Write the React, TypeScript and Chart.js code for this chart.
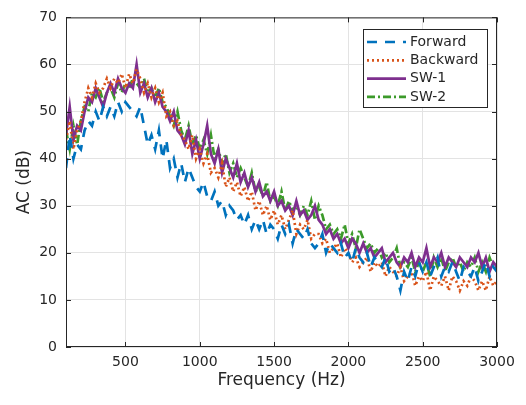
import React, { useEffect, useRef } from "react";
import { Chart, registerables } from "chart.js";

Chart.register(...registerables);

const FREQ_START = 100;
const FREQ_STEP = 25;

const forward = [
  38, 45, 40, 43, 42, 46, 48, 47, 50, 48, 51, 49, 51, 49, 52, 50,
  52, 51, 50, 49, 51, 47, 43, 45, 42, 46, 40, 44, 38, 40, 36, 39,
  35, 38, 36, 34, 33, 35, 32, 31, 33, 30, 31, 28, 30, 29, 27, 28,
  26, 28, 25, 27, 25, 27, 24, 26, 25, 23, 26, 24, 26, 22, 25, 24,
  23, 25, 22, 21, 22, 24, 20, 22, 21, 20, 22, 19, 20, 18, 21, 19,
  18, 20, 17, 19, 18, 17, 19, 16, 17, 15, 12, 16, 14, 17, 15, 18,
  16, 18, 15, 17, 19, 15, 17, 16, 18, 16, 14, 17, 16, 15, 17, 14,
  16, 18, 15, 17, 16,
];

const backward = [
  44, 48, 42, 46, 48, 52, 55, 53, 56, 54, 55, 57, 55, 57, 56, 58,
  55, 58, 56, 59, 57, 54, 56, 53, 55, 52, 54, 49, 50, 47, 48, 45,
  44, 42, 45, 40, 42, 39, 41, 37, 38, 36, 39, 34, 36, 33, 35, 32,
  34, 31, 33, 29, 31, 28, 30, 27, 29, 26, 28, 25, 27, 29, 24, 26,
  25, 27, 23, 24, 24, 22, 23, 20, 21, 22, 19, 21, 20, 18, 19, 17,
  18, 19, 16, 18, 17, 18, 15, 17, 16, 15, 17, 14, 15, 16, 13, 15,
  14, 16, 12, 15, 14, 13, 15, 12, 15, 14, 12, 14, 13, 15, 14, 12,
  14, 12, 15, 13, 14,
];

const sw1 = [
  45, 51, 44, 47, 46, 50, 53, 52, 55, 53, 51, 54, 56, 54, 57, 55,
  54, 56, 55, 60, 54, 56, 53, 55, 52, 54, 51, 50, 48, 50, 46, 45,
  43, 46, 41, 44, 40, 43, 47, 41, 39, 42, 37, 40, 38, 36, 39, 35,
  37, 34, 36, 33, 35, 32, 33, 31, 33, 30, 31, 29, 30, 28, 31, 28,
  29, 27, 28, 30, 27, 26, 24, 25, 23, 24, 22, 23, 21, 23, 22, 20,
  22, 20, 21, 19, 20, 21, 18, 19, 20, 18, 17, 19, 18, 20, 17, 19,
  18, 21, 17, 19, 18, 20, 17, 19, 18, 17, 19, 18, 17, 19, 18, 20,
  17, 19, 16, 18, 17,
];

const sw2 = [
  46, 42, 47, 43, 48, 51, 50, 54, 53, 55, 52, 54, 55, 53, 56, 54,
  56, 55, 57, 56, 55, 57, 54, 55, 53, 55, 52, 51, 49, 47, 50, 46,
  44, 47, 43, 45, 42, 44, 41, 45, 40, 42, 39, 41, 37, 39, 36, 38,
  36, 34, 37, 33, 34, 32, 35, 31, 32, 30, 33, 29, 31, 29, 30, 28,
  30, 28, 31, 27, 30, 28, 25, 26, 24, 25, 23, 26, 22, 24, 21, 25,
  23, 21, 22, 20, 21, 19, 20, 18, 19, 21, 17, 18, 17, 19, 16, 18,
  16, 18, 15, 19, 17, 19, 16, 18, 19, 17, 18, 16, 18, 17, 19, 16,
  18, 16, 19, 17, 17,
];

const xTicks = [500, 1000, 1500, 2000, 2500, 3000];
const yTicks = [0, 10, 20, 30, 40, 50, 60, 70];

const seriesNames = ["Forward", "Backward", "SW-1", "SW-2"];
const seriesColors = ["#0072BD", "#D95319", "#7E2F8E", "#3C9A2A"];
const seriesDash = [[10, 8], [2, 3], [], [8, 3, 2, 3]];

const FONT = "'DejaVu Sans', 'Liberation Sans', sans-serif";
const TEXT = "#262626";

const toPoints = (arr: number[]) =>
  arr.map((v, i) => ({ x: FREQ_START + i * FREQ_STEP, y: v }));

const boxPlugin = {
  id: "matlabBox",
  afterDraw(chart: any) {
    const { ctx, chartArea } = chart;
    const { left, right, top, bottom } = chartArea;
    const xs = chart.scales.x;
    const ys = chart.scales.y;
    ctx.save();
    ctx.strokeStyle = TEXT;
    ctx.lineWidth = 1;
    ctx.setLineDash([]);
    ctx.strokeRect(left + 0.5, top + 0.5, right - left - 1, bottom - top - 1);
    ctx.beginPath();
    const tl = 5;
    xTicks.forEach((t) => {
      const px = Math.round(xs.getPixelForValue(t)) + 0.5;
      ctx.moveTo(px, bottom);
      ctx.lineTo(px, bottom - tl);
      ctx.moveTo(px, top);
      ctx.lineTo(px, top + tl);
    });
    yTicks.forEach((t) => {
      const py = Math.round(ys.getPixelForValue(t)) + 0.5;
      ctx.moveTo(left, py);
      ctx.lineTo(left + tl, py);
      ctx.moveTo(right, py);
      ctx.lineTo(right - tl, py);
    });
    ctx.stroke();

    // legend
    const lx = 363, ly = 29, lw = 124, lh = 78;
    ctx.fillStyle = "#ffffff";
    ctx.fillRect(lx, ly, lw, lh);
    ctx.strokeStyle = TEXT;
    ctx.strokeRect(lx + 0.5, ly + 0.5, lw, lh);
    ctx.font = `14px ${FONT}`;
    ctx.textBaseline = "middle";
    ctx.textAlign = "left";
    seriesNames.forEach((name, i) => {
      const cy = ly + 13 + i * 18.3;
      ctx.beginPath();
      ctx.strokeStyle = seriesColors[i];
      ctx.lineWidth = 2.7;
      ctx.setLineDash(seriesDash[i]);
      ctx.moveTo(lx + 4, cy);
      ctx.lineTo(lx + 43, cy);
      ctx.stroke();
      ctx.setLineDash([]);
      ctx.fillStyle = TEXT;
      ctx.fillText(name, lx + 47, cy);
    });
    ctx.restore();
  },
};

export default function App() {
  const ref = useRef<HTMLCanvasElement | null>(null);

  useEffect(() => {
    document.body.style.margin = "0";
    const canvas = ref.current;
    if (!canvas) return;
    const datasets = [forward, backward, sw1, sw2].map((arr, i) => ({
      label: seriesNames[i],
      data: toPoints(arr),
      borderColor: seriesColors[i],
      backgroundColor: seriesColors[i],
      borderWidth: 2.7,
      borderDash: seriesDash[i],
      pointRadius: 0,
      tension: 0,
      fill: false,
    }));
    const chart = new Chart(canvas, {
      type: "line",
      data: { datasets },
      options: {
        animation: false,
        responsive: false,
        maintainAspectRatio: false,
        layout: { padding: { top: 13, right: 29, left: 0, bottom: 0 } },
        plugins: {
          legend: { display: false },
          tooltip: { enabled: false },
        },
        scales: {
          x: {
            type: "linear",
            min: 100,
            max: 3000,
            afterBuildTicks: (axis: any) => {
              axis.ticks = xTicks.map((v) => ({ value: v }));
            },
            afterFit: (axis: any) => {
              axis.height = 58;
            },
            grid: { color: "#e3e3e3", drawTicks: false, lineWidth: 1 },
            border: { display: false },
            ticks: {
              color: TEXT,
              font: { family: FONT, size: 14 },
              padding: 7,
              maxRotation: 0,
              autoSkip: false,
              callback: (v: any) => String(v),
            },
            title: {
              display: true,
              text: "Frequency (Hz)",
              color: TEXT,
              font: { family: FONT, size: 17 },
              padding: { top: 0, bottom: 14 },
            },
          },
          y: {
            type: "linear",
            min: 0,
            max: 70,
            afterBuildTicks: (axis: any) => {
              axis.ticks = yTicks.map((v) => ({ value: v }));
            },
            afterFit: (axis: any) => {
              axis.width = 66;
            },
            grid: { color: "#e3e3e3", drawTicks: false, lineWidth: 1 },
            border: { display: false },
            ticks: {
              color: TEXT,
              font: { family: FONT, size: 14 },
              padding: 9,
              callback: (v: any) => String(v),
            },
            title: {
              display: true,
              text: "AC (dB)",
              color: TEXT,
              font: { family: FONT, size: 17 },
              padding: { top: 14, bottom: 0 },
            },
          },
        },
      },
      plugins: [boxPlugin],
    });
    return () => chart.destroy();
  }, []);

  return (
    <div style={{ width: 526, height: 405, background: "#ffffff" }}>
      <canvas ref={ref} width={526} height={405} style={{ display: "block" }} />
    </div>
  );
}
